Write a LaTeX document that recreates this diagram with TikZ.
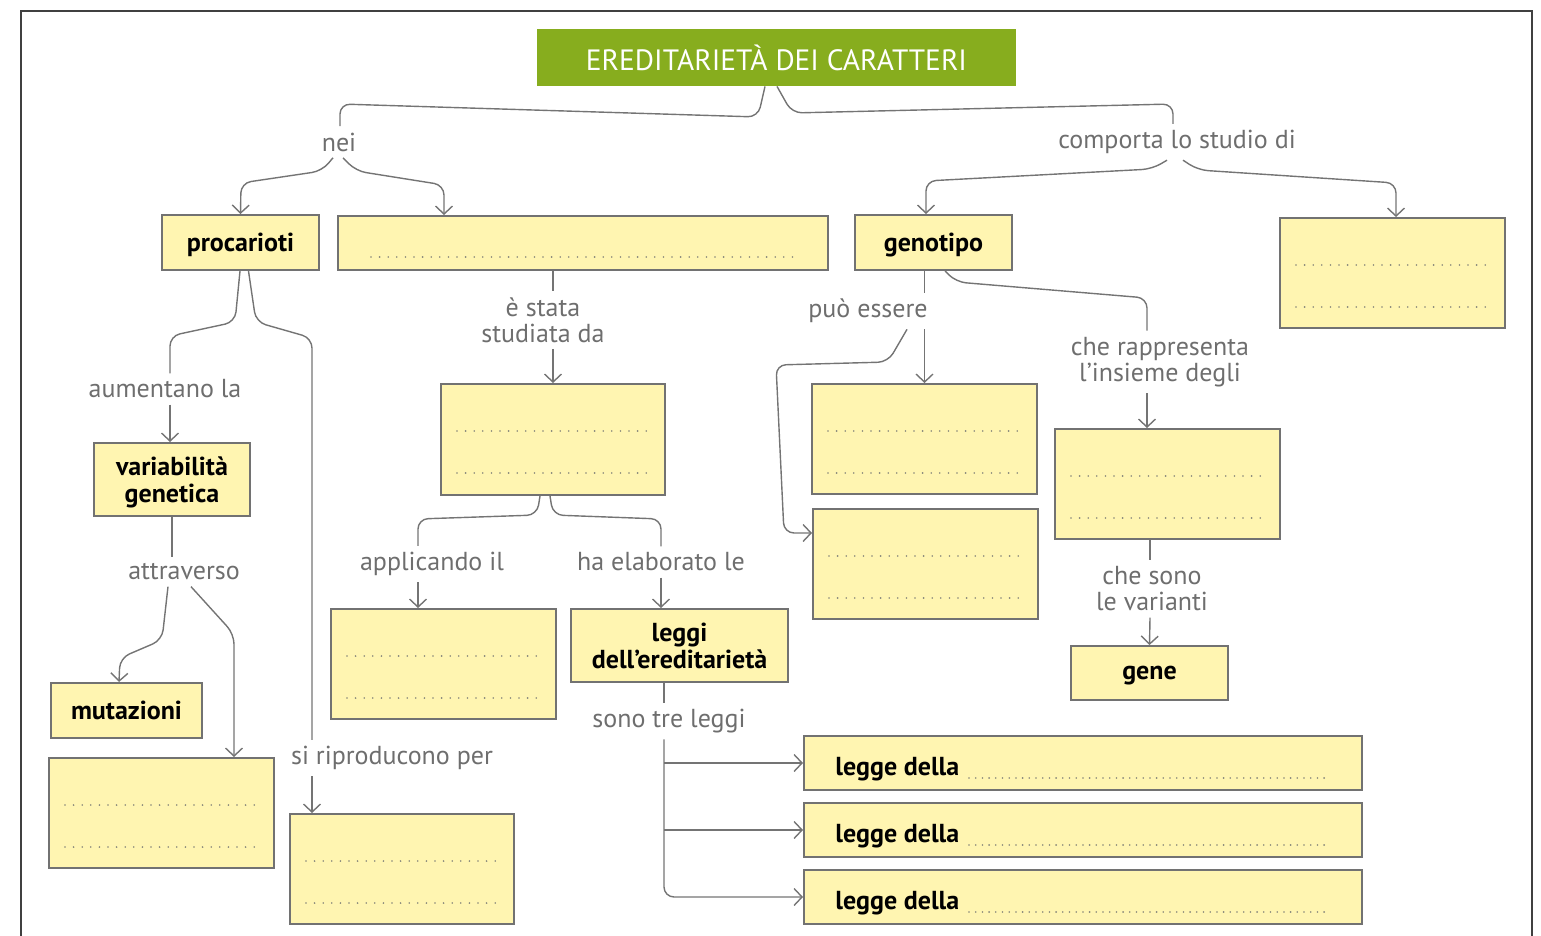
\documentclass[tikz,border=0pt]{standalone}
\usepackage{fontspec}
\setmainfont{PT Sans}
\usetikzlibrary{arrows.meta}
\definecolor{titlegreen}{HTML}{87AD1E}
\definecolor{boxfill}{HTML}{FFF5B1}
\definecolor{boxline}{HTML}{727272}
\definecolor{linegray}{HTML}{747474}
\definecolor{lblgray}{HTML}{6E6E6E}
\definecolor{dotgray}{HTML}{85857A}
\definecolor{framegray}{HTML}{404040}
\newcommand\twolines[1]{%
  \draw[fillin] ([xshift=8.5pt,yshift=-24pt]#1.north west) -- ([xshift=-8.5pt,yshift=-24pt]#1.north east);
  \draw[fillin] ([xshift=8.5pt,yshift=-45pt]#1.north west) -- ([xshift=-8.5pt,yshift=-45pt]#1.north east);}
\newcommand\leggeline[1]{%
  \node[boxtxt, anchor=base west] at ([xshift=16pt,yshift=-6pt]#1.west) {legge della};
  \draw[fillin, dash pattern=on 0pt off 3.35pt] ([xshift=83pt,yshift=-7.5pt]#1.west) -- ([xshift=263pt,yshift=-7.5pt]#1.west);}
\begin{document}
\begin{tikzpicture}[x=0.5pt,y=-0.5pt,
  box/.style={draw=boxline, fill=boxfill, line width=1pt, inner sep=0pt, align=center,
    text depth=0pt, font=\fontsize{13}{13.5}\selectfont\bfseries},
  boxtxt/.style={inner sep=0pt, font=\fontsize{13}{13.5}\selectfont\bfseries},
  titlebox/.style={fill=titlegreen, text=white, inner sep=0pt,
    font=\fontsize{14.7}{16}\selectfont, minimum width=239.5pt, minimum height=28.5pt},
  lbl/.style={text=lblgray, font=\fontsize{13}{13}\selectfont, inner sep=3pt, align=center},
  conn/.style={draw=linegray, line width=0.7pt, rounded corners=5pt},
  arr/.style={conn, -{Straight Barb[length=4pt,width=8.5pt,line width=0.7pt]}},
  fillin/.style={draw=dotgray, line width=0.9pt, line cap=round, dash pattern=on 0pt off 4.3pt},
  frame/.style={draw=framegray, line width=1pt}]
\useasboundingbox (0,0) rectangle (1541,936);
\draw[frame] (21,936) -- (21,11) -- (1532,11) -- (1532,936);

% title
\node[titlebox] (title) at (776.5,57.5) {EREDITARIETÀ DEI CARATTERI};

% boxes
\node[box, minimum width=78.5pt, minimum height=27.5pt] (proc) at (240.5,242.5) {procarioti};
\node[box, minimum width=245pt, minimum height=27pt] (euc) at (583,243) {};
\node[box, minimum width=78.5pt, minimum height=27.5pt] (geno) at (933.5,242.5) {genotipo};
\node[box, minimum width=112.5pt, minimum height=55pt] (feno) at (1392.5,273) {};
\node[box, minimum width=112pt, minimum height=55.5pt] (mendel) at (553,439.5) {};
\node[box, minimum width=78pt, minimum height=36.5pt] (var) at (172,479.5) {variabilità\\genetica};
\node[box, minimum width=75.5pt, minimum height=27.5pt] (mut) at (126.5,710.5) {mutazioni};
\node[box, minimum width=112.5pt, minimum height=55pt] (ricomb) at (161.5,813) {};
\node[box, minimum width=112pt, minimum height=55pt] (riprod) at (402,869) {};
\node[box, minimum width=112.5pt, minimum height=55pt] (metodo) at (443.5,664) {};
\node[box, minimum width=108.5pt, minimum height=36.5pt] (leggi) at (679.5,645.5) {leggi\\dell’ereditarietà};
\node[box, minimum width=112.5pt, minimum height=55pt] (omo) at (924.5,439) {};
\node[box, minimum width=112.5pt, minimum height=55pt] (etero) at (925.5,564) {};
\node[box, minimum width=112.5pt, minimum height=55pt] (alleli) at (1167.5,484) {};
\node[box, minimum width=78.5pt, minimum height=27pt] (gene) at (1149.5,673) {gene};
\node[box, minimum width=279pt, minimum height=27pt] (legge1) at (1083,763) {};
\node[box, minimum width=279pt, minimum height=27pt] (legge2) at (1083,830) {};
\node[box, minimum width=279pt, minimum height=27pt] (legge3) at (1083,897) {};

% fill-in dots
\draw[fillin] ([xshift=17pt,yshift=-7pt]euc.west) -- ([xshift=-16.5pt,yshift=-7pt]euc.east);
\twolines{feno}
\twolines{mendel}
\twolines{ricomb}
\twolines{riprod}
\twolines{metodo}
\twolines{omo}
\twolines{etero}
\twolines{alleli}
\leggeline{legge1}
\leggeline{legge2}
\leggeline{legge3}

% labels
\node[lbl] (nei) at (339,142) {nei};
\node[lbl] (comp) at (1177,142) {comporta lo studio di};
\node[lbl] (stata) at (543,320) {è stata\\studiata da};
\node[lbl] (aum) at (165,389) {aumentano la};
\node[lbl] (attr) at (184,572) {attraverso};
\node[lbl] (ripl) at (392,758) {si riproducono per};
\node[lbl] (appl) at (432,564) {applicando il};
\node[lbl] (ela) at (661,562) {ha elaborato le};
\node[lbl] (sono) at (669,721) {sono tre leggi};
\node[lbl] (pue) at (868,311) {può essere};
\node[lbl] (rap) at (1160,362) {che rappresenta\\l’insieme degli};
\node[lbl] (chesono) at (1152,589) {che sono\\le varianti};

% connectors
\draw[conn] ([xshift=-5.75pt]title.south) -- (758,117) -- (340,104) -- ([xshift=0.5pt]nei.north);
\draw[conn] ([xshift=0.25pt]title.south) -- (792,113) -- (1173,104) -- ([xshift=-2pt]comp.north);
\draw[arr] ([xshift=-3pt]nei.south) -- (322,171) -- (241,183) -- (proc.north);
\draw[arr] ([xshift=2pt]nei.south) -- (356,171) -- (444,185) -- ([xshift=-69.5pt]euc.north);
\draw[arr] ([xshift=-5pt]comp.south) -- (1152,169) -- (926,181) -- ([xshift=-3.75pt]geno.north);
\draw[arr] ([xshift=3pt]comp.south) -- (1198,170) -- (1396,183) -- ([xshift=1.75pt]feno.north);

\draw[conn] ([xshift=-0.25pt]proc.south) -- (235,322) -- (170,336) -- ([xshift=2.5pt]aum.north);
\draw[arr] ([xshift=2.5pt]aum.south) -- ([xshift=-1pt]var.north);
\draw[conn] ([xshift=4pt]proc.south) -- (256,322) -- (312,338) -- ([xshift=-40pt]ripl.north);
\draw[arr] ([xshift=-40pt]ripl.south) -- ([xshift=-45pt]riprod.north);
\draw[conn] (var.south) -- (var.south |- attr.north);
\draw[arr] ([xshift=-8pt]attr.south) -- (162,640) -- (120,658) -- ([xshift=-3.75pt]mut.north);
\draw[arr] ([xshift=3.5pt]attr.south) -- (234,634) -- ([xshift=36.25pt]ricomb.north);

\draw[conn] (mendel.north |- euc.south) -- (mendel.north |- stata.north);
\draw[arr] (mendel.north |- stata.south) -- (mendel.north);
\draw[conn] ([xshift=-6.5pt]mendel.south) -- (537,515) -- (418,519) -- ([xshift=-7pt]appl.north);
\draw[arr] ([xshift=-7pt]appl.south) -- ([xshift=-12.75pt]metodo.north);
\draw[conn] ([xshift=-1.5pt]mendel.south) -- (553,515) -- (661,519) -- (ela.north);
\draw[arr] (ela.south) -- ([xshift=-9.25pt]leggi.north);
\draw[conn] ([xshift=-7.75pt]leggi.south) -- ([xshift=-2.5pt]sono.north);
\coordinate (trunk) at ([xshift=-2.5pt]sono.south);
\draw[arr] (trunk) -- (trunk |- legge3.west) -- (legge3.west);
\draw[arr] (trunk |- legge1.west) -- (legge1.west);
\draw[arr] (trunk |- legge2.west) -- (legge2.west);

\draw[conn] (omo.north |- geno.south) -- (omo.north |- pue.north);
\draw[arr] (omo.north |- pue.south) -- (omo.north);
\draw[arr] ([xshift=19.5pt]pue.south) -- (888,362) -- (776,365) -- (784,533) -- ([yshift=15.5pt]etero.west);
\draw[conn] ([xshift=5.75pt]geno.south) -- (956,282) -- (1147,298) -- ([xshift=-6.5pt]rap.north);
\draw[arr] ([xshift=-6.5pt]rap.south) -- ([xshift=-10.25pt]alleli.north);
\draw[conn] ([xshift=-8.75pt]alleli.south) -- ([xshift=-1pt]chesono.north);
\draw[arr] ([xshift=-1pt]chesono.south) -- (gene.north);
\end{tikzpicture}
\end{document}
